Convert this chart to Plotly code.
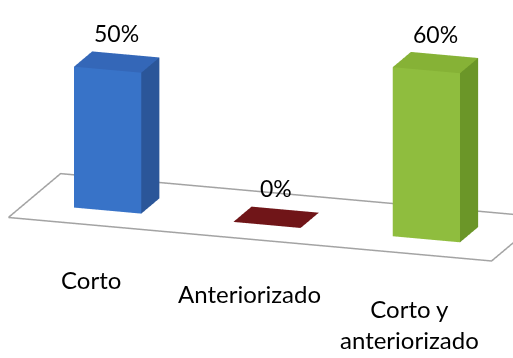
import numpy as np
import plotly.graph_objects as go

# ---- data ----
categories = ["Corto", "Anteriorizado", "Corto y<br>anteriorizado"]
values = [0.50, 0.00, 0.60]
value_labels = ["50%", "0%", "60%"]

# ---- colours (front, side, top) ----
front_colors = ["#3873c8", "#6e1416", "#8fbd3e"]
side_colors = ["#2b5699", "#4f0d0f", "#6b9628"]
top_colors = ["#3467b8", "#701518", "#86b236"]

# ---- geometry of the 3-D chart (data units) ----
BAR_HALF_W = 0.211     # half width of a column along the category axis
BAR_HALF_D = 0.174     # half depth of a column
FLOOR_PAD = 0.516      # floor overhang beyond the outer categories
FLOOR_Y = (-0.5, 0.5)  # floor depth

# ---- view: orthographic camera ----
W, H = 513, 358
YAW, PITCH = 0.3164, 0.2786            # radians
SCALE = (167.69, 167.82, 293.06)       # screen px per data unit (x, y, z)
ORIGIN_PX = (276.1, 217.3)             # screen position of (x=1, y=0, z=0)
EYE_DIST = 3.0
PX_PER_UNIT = H / 2                    # orthographic zoom at that eye distance

n = len(values)
XR = [-FLOOR_PAD - 0.05, (n - 1) + FLOOR_PAD + 0.05]
YR = [-0.6, 0.6]
ZR = [-0.02, 0.75]

F = np.array([-np.sin(YAW) * np.cos(PITCH), np.cos(YAW) * np.cos(PITCH), -np.sin(PITCH)])
R = np.array([np.cos(YAW), np.sin(YAW), 0.0])
U = np.cross(R, F)
k = np.array(SCALE)
s = k / PX_PER_UNIT
mid = np.array([sum(XR) / 2, sum(YR) / 2, sum(ZR) / 2])
ref = np.array([(n - 1) / 2, 0.0, 0.0])
aspect = s * np.array([XR[1] - XR[0], YR[1] - YR[0], ZR[1] - ZR[0]])
c_px = (W / 2 - ORIGIN_PX[0]) * R - (H / 2 - ORIGIN_PX[1]) * U
c_data = c_px / k + ref
center = s * (c_data - mid)
eye = center - F * EYE_DIST

fig = go.Figure()

# floor outline
fx = [-FLOOR_PAD, (n - 1) + FLOOR_PAD, (n - 1) + FLOOR_PAD, -FLOOR_PAD, -FLOOR_PAD]
fy = [FLOOR_Y[0], FLOOR_Y[0], FLOOR_Y[1], FLOOR_Y[1], FLOOR_Y[0]]
fig.add_trace(go.Scatter3d(x=fx, y=fy, z=[0] * 5, mode="lines",
                           line=dict(color="#a3a3a3", width=3),
                           hoverinfo="skip", showlegend=False))

# columns: front, right side and top faces
tri = [(0, 1, 5), (0, 5, 4), (1, 2, 6), (1, 6, 5), (4, 5, 6), (4, 6, 7)]
for i, h in enumerate(values):
    x0, x1 = i - BAR_HALF_W, i + BAR_HALF_W
    y0, y1 = -BAR_HALF_D, BAR_HALF_D
    fig.add_trace(go.Mesh3d(
        x=[x0, x1, x1, x0, x0, x1, x1, x0],
        y=[y0, y0, y1, y1, y0, y0, y1, y1],
        z=[0, 0, 0, 0, h, h, h, h],
        i=[t[0] for t in tri], j=[t[1] for t in tri], k=[t[2] for t in tri],
        facecolor=[front_colors[i]] * 2 + [side_colors[i]] * 2 + [top_colors[i]] * 2,
        flatshading=True,
        lighting=dict(ambient=1, diffuse=0, specular=0, fresnel=0),
        hoverinfo="skip", showscale=False,
    ))

value_font = dict(family="Lato", size=23, color="#000000")
cat_font = dict(family="Lato", size=24, color="#000000")
annotations = []
for i, (v, lab) in enumerate(zip(values, value_labels)):
    annotations.append(dict(x=i, y=0, z=v, text=lab, showarrow=False,
                            yshift=29, font=value_font))
for i, cat in enumerate(categories):
    annotations.append(dict(x=i, y=FLOOR_Y[0], z=0, text=cat, showarrow=False,
                            yanchor="top", yshift=-38, font=cat_font))

off = dict(visible=False, showgrid=False, zeroline=False, showbackground=False,
           showspikes=False)
fig.update_layout(
    width=W, height=H,
    margin=dict(l=0, r=0, t=0, b=0),
    paper_bgcolor="white",
    showlegend=False,
    scene=dict(
        domain=dict(x=[0, 1], y=[0, 1]),
        xaxis=dict(range=XR, **off),
        yaxis=dict(range=YR, **off),
        zaxis=dict(range=ZR, **off),
        aspectmode="manual",
        aspectratio=dict(x=aspect[0], y=aspect[1], z=aspect[2]),
        camera=dict(
            eye=dict(x=eye[0], y=eye[1], z=eye[2]),
            center=dict(x=center[0], y=center[1], z=center[2]),
            up=dict(x=0, y=0, z=1),
            projection=dict(type="orthographic"),
        ),
        annotations=annotations,
    ),
)

fig.write_html("out.html")
